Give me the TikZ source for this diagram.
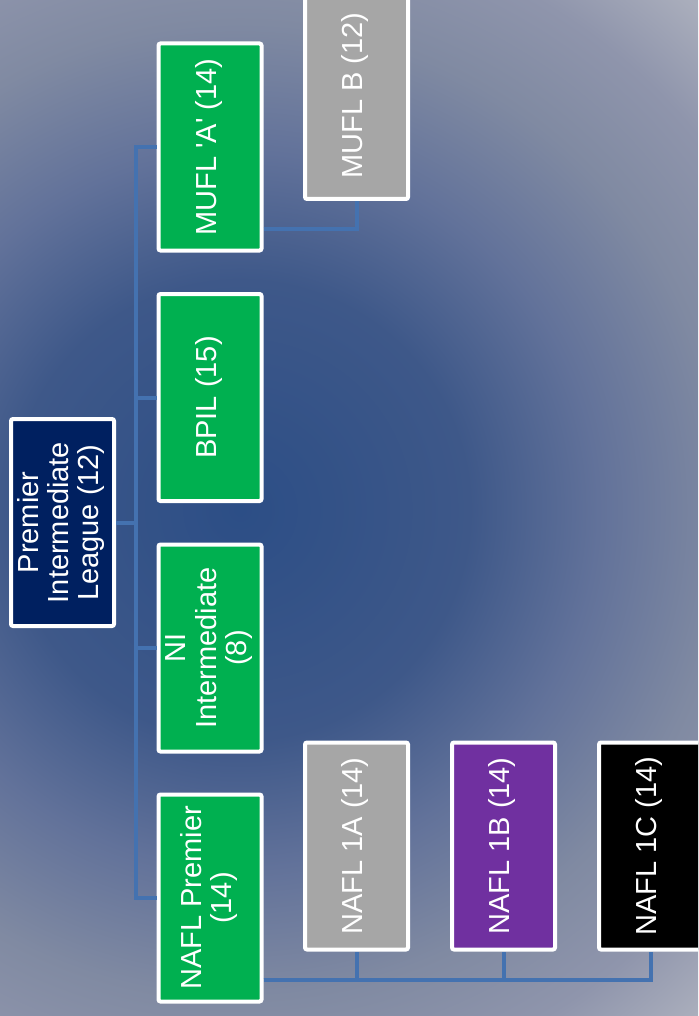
\documentclass[tikz,border=0pt]{standalone}
\usepackage{fontspec}
\setmainfont{Liberation Sans}
\usepackage{graphicx}
\usetikzlibrary{calc}

\definecolor{leaguegreen}{HTML}{00B050}
\definecolor{leaguenavy}{HTML}{002060}
\definecolor{leaguepurple}{HTML}{7030A0}
\definecolor{leaguegrey}{HTML}{A6A6A6}
\definecolor{linkblue}{HTML}{4472B0}
\definecolor{bgcentre}{HTML}{2C4E86}
\definecolor{bginner}{HTML}{3E5889}
\definecolor{bgmid}{HTML}{62729A}
\definecolor{bgouter}{HTML}{808AA2}
\definecolor{bgrim}{HTML}{8F95AC}
\definecolor{bgedge}{HTML}{AAAEBC}

% the middle 25bp of the shading is fitted to the shaded path
\pgfdeclareradialshading{bgglow}{\pgfpoint{0bp}{0bp}}{color(0bp)=(bgcentre); color(8.2bp)=(bginner); color(12.8bp)=(bgmid); color(17.4bp)=(bgouter); color(21.1bp)=(bgrim); color(24.3bp)=(bgedge); color(50bp)=(bgedge)}

\newcommand{\sidetext}[1]{\rotatebox{90}{\begin{tabular}{@{}c@{}}#1\end{tabular}}}

\begin{document}
\begin{tikzpicture}[x=1pt,y=-1pt,
  box/.style={draw=white,line width=4pt,rounded corners=2pt,minimum width=103pt,minimum height=207pt,inner sep=0pt,text=white,font=\fontsize{29}{30}\selectfont},
  link/.style={draw=linkblue,line width=4pt}]
\useasboundingbox (0,0) rectangle (698,1016);
\clip (0,0) rectangle (698,1016);
\fill[bgedge] (0,0) rectangle (698,1016);
\shade[shading=bgglow] (240,510) circle (700);
\node[box,fill=leaguenavy] (prem) at (62.5,522.5) {\sidetext{Premier\\Intermediate\\League (12)}};
\node[box,fill=leaguegreen] (mufla) at (210,147) {\sidetext{MUFL \textquotesingle A\textquotesingle{} (14)}};
\node[box,fill=leaguegreen] (bpil) at (210,397.5) {\sidetext{BPIL (15)}};
\node[box,fill=leaguegreen] (niint) at (210,648) {\sidetext{NI\\Intermediate\\(8)}};
\node[box,fill=leaguegreen] (naflp) at (210,898) {\sidetext{NAFL Premier\\(14)}};
\node[box,fill=leaguegrey] (muflb) at (356.5,95.5) {\sidetext{MUFL B (12)}};
\node[box,fill=leaguegrey] (nafla) at (356.5,846) {\sidetext{NAFL 1A (14)}};
\node[box,fill=leaguepurple] (naflb) at (503.5,846) {\sidetext{NAFL 1B (14)}};
\node[box,fill=black] (naflc) at (650.5,846) {\sidetext{NAFL 1C (14)}};
\coordinate (trunk) at (136,522.5);
\foreach \lg in {mufla,bpil,niint,naflp}
  \draw[link] (prem.east) -- (trunk) |- (\lg.west);
\draw[link] ([yshift=-82pt]mufla.east) -| (muflb.south);
\foreach \lg in {nafla,naflb,naflc}
  \draw[link] ([yshift=-82pt]naflp.east) -| (\lg.south);
\end{tikzpicture}
\end{document}
